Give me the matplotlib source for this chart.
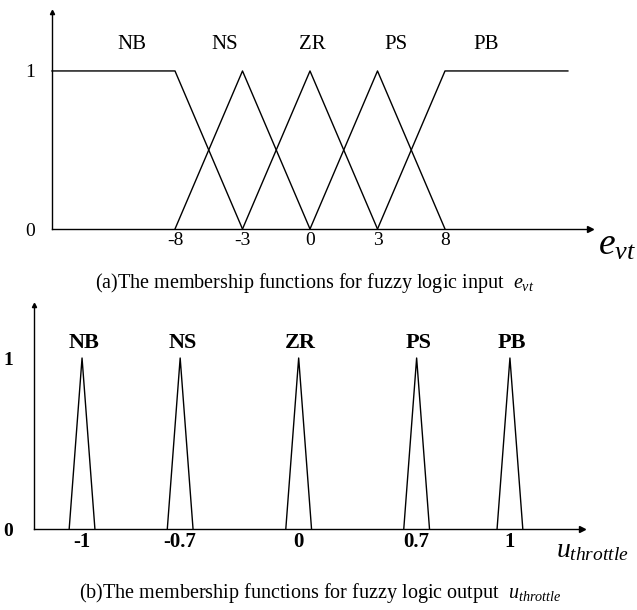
import matplotlib.pyplot as plt

plt.rcParams['font.family'] = 'Liberation Serif'
plt.rcParams['mathtext.fontset'] = 'custom'
plt.rcParams['mathtext.rm'] = 'Liberation Serif'
plt.rcParams['mathtext.it'] = 'Liberation Serif:italic'

W, H = 637, 610

# (a) input e_vt: fuzzy sets, tick values and breakpoints (left foot, peak, right foot)
in_sets = ['NB', 'NS', 'ZR', 'PS', 'PB']
in_ticks = [-8, -3, 0, 3, 8]
in_left = [None, -8, -3, 0, 3]
in_peak = [-8, -3, 0, 3, 8]
in_right = [-3, 0, 3, 8, None]

# (b) output u_throttle: narrow triangles
out_sets = ['NB', 'NS', 'ZR', 'PS', 'PB']
out_centers = [-1, -0.7, 0, 0.7, 1]
out_ticks = ['-1', '-0.7', '0', '0.7', '1']

# layout (the drawing is not to scale)
in_label_x = [-0.64, 0.73, 2.04, 3.27, 4.61]
out_slot = [0, 0.915, 2.02, 3.12, 3.99]
out_half = 0.12

fig = plt.figure(figsize=(W / 100, H / 100), dpi=100)


def px_axes(x0, y0, x1, y1):
    return fig.add_axes([x0 / W, 1 - y1 / H, (x1 - x0) / W, (y1 - y0) / H])


def style_axes(ax):
    for s in ['top', 'right']:
        ax.spines[s].set_visible(False)
    for s in ['left', 'bottom']:
        ax.spines[s].set_linewidth(1.0)
    ax.plot(1, 0, '>', color='k', ms=4, transform=ax.transAxes, clip_on=False)
    ax.plot(0, 1, '^', color='k', ms=3, transform=ax.transAxes, clip_on=False)


# ---- top panel
ax1 = px_axes(52, 12, 590, 229)
ax1.set_xlim(-1.822, 6.148)
ax1.set_ylim(0, 1.373)
style_axes(ax1)
pos = {v: i for i, v in enumerate(in_ticks)}
xmin, xend = ax1.get_xlim()[0], 5.82
for i, name in enumerate(in_sets):
    px = pos[in_peak[i]]
    if in_left[i] is None:
        xs, ys = [xmin, px, pos[in_right[i]]], [1, 1, 0]
    elif in_right[i] is None:
        xs, ys = [pos[in_left[i]], px, xend], [0, 1, 1]
    else:
        xs, ys = [pos[in_left[i]], px, pos[in_right[i]]], [0, 1, 0]
    ax1.plot(xs, ys, color='k', lw=1.0, clip_on=False)
    ax1.text(in_label_x[i], 1.165, name, ha='center', va='center', fontsize=15)
ax1.set_xticks(range(len(in_ticks)), [str(t) for t in in_ticks])
ax1.set_yticks([0, 1], ['0', '1'])
ax1.tick_params(axis='x', length=0, pad=2, labelsize=14)
ax1.tick_params(axis='y', length=0, pad=12, labelsize=14)

fig.text(598 / W, 1 - 245 / H, r'$e_{vt}$', ha='left', va='center', fontsize=27)
fig.text(315 / W, 1 - 283 / H,
         r'(a)The membership functions for fuzzy logic input  $e_{vt}$',
         ha='center', va='center', fontsize=14.5)

# ---- bottom panel
ax2 = px_axes(34, 305, 582, 529)
ax2.set_xlim(-0.448, 4.662)
ax2.set_ylim(0, 1.31)
style_axes(ax2)
for i, name in enumerate(out_sets):
    c = out_slot[i]
    ax2.plot([c - out_half, c, c + out_half], [0, 1, 0], color='k', lw=1.0)
    ax2.text(c + 0.02, 1.088, name, ha='center', va='center',
             fontsize=16, fontweight='bold')
ax2.set_xticks(out_slot, out_ticks)
ax2.set_yticks([0, 1], ['0', '1'])
ax2.tick_params(axis='x', length=0, pad=2, labelsize=15)
ax2.tick_params(axis='y', length=0, pad=15, labelsize=14)
for lab in ax2.get_xticklabels() + ax2.get_yticklabels():
    lab.set_fontweight('bold')

fig.text(556 / W, 1 - 551 / H, r'$u_{throttle}$', ha='left', va='center', fontsize=20)
fig.text(320 / W, 1 - 593 / H,
         r'(b)The membership functions for fuzzy logic output  $u_{throttle}$',
         ha='center', va='center', fontsize=14.5)

fig.savefig('out.png', dpi=100)
